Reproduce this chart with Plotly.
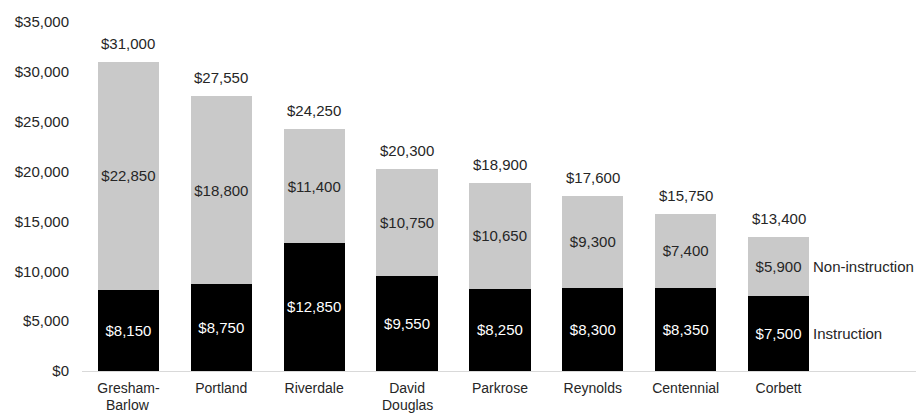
import plotly.graph_objects as go

districts = ["Gresham-\nBarlow", "Portland", "Riverdale", "David\nDouglas", "Parkrose",
             "Reynolds", "Centennial", "Corbett"]
instruction = [8150, 8750, 12850, 9550, 8250, 8300, 8350, 7500]
non_instruction = [22850, 18800, 11400, 10750, 10650, 9300, 7400, 5900]
totals = [31000, 27550, 24250, 20300, 18900, 17600, 15750, 13400]
y_ticks = [0, 5000, 10000, 15000, 20000, 25000, 30000, 35000]

FONT = "Liberation Sans, Arial, sans-serif"
TXT = "#262626"
DS = 15
CS = 14

xnames = [d.replace("\n", " ") for d in districts]
first_lines = [d.split("\n")[0] for d in districts]

fig = go.Figure()
fig.add_trace(go.Bar(
    x=xnames, y=instruction, name="Instruction",
    marker=dict(color="#000000", line=dict(width=0)),
    text=[f"${v:,}" for v in instruction], textposition="inside",
    insidetextanchor="middle", textangle=0, constraintext="none",
    textfont=dict(color="white", size=DS, family=FONT),
))
fig.add_trace(go.Bar(
    x=xnames, y=non_instruction, name="Non-instruction",
    marker=dict(color="#c9c9c9", line=dict(width=0)),
    text=[f"${v:,}" for v in non_instruction], textposition="inside",
    insidetextanchor="middle", textangle=0, constraintext="none",
    textfont=dict(color=TXT, size=DS, family=FONT),
))

for d, t in zip(xnames, totals):
    fig.add_annotation(x=d, y=t, text=f"${t:,}", showarrow=False,
                       yanchor="bottom", yshift=8,
                       font=dict(size=DS, color=TXT, family=FONT))

# second lines of two-line category labels
for d, raw in zip(xnames, districts):
    parts = raw.split("\n")
    if len(parts) > 1:
        fig.add_annotation(x=d, y=0, text=parts[1], showarrow=False,
                           yanchor="middle", yshift=-34, borderpad=0,
                           font=dict(size=CS, color=TXT, family=FONT))

last = xnames[-1]
fig.add_annotation(x=last, y=instruction[-1] / 2, text="Instruction", showarrow=False,
                   xanchor="left", xshift=32, font=dict(size=DS, color=TXT, family=FONT))
fig.add_annotation(x=last, y=instruction[-1] + non_instruction[-1] / 2, text="Non-instruction",
                   showarrow=False, xanchor="left", xshift=32,
                   font=dict(size=DS, color=TXT, family=FONT))

fig.update_layout(
    barmode="stack", bargap=0.34, showlegend=False,
    width=916, height=414,
    margin=dict(l=82, r=0, t=22, b=43),
    plot_bgcolor="white", paper_bgcolor="white",
    font=dict(family=FONT, size=12, color=TXT),
    uniformtext=dict(mode=False),
)
fig.update_xaxes(range=[-0.5, 8.48], showline=True, linecolor="#d9d9d9", linewidth=1,
                 tickvals=xnames, ticktext=first_lines,
                 ticks="", showgrid=False, automargin=False, ticklabelstandoff=4,
                 tickfont=dict(size=CS, color=TXT))
fig.update_yaxes(range=[0, 35000], tickvals=y_ticks,
                 ticktext=[f"${v:,}" for v in y_ticks], showgrid=False, automargin=False,
                 zeroline=False, showline=False, ticks="", ticklabelstandoff=12,
                 tickfont=dict(size=DS, color=TXT))

fig.write_html("out.html")
